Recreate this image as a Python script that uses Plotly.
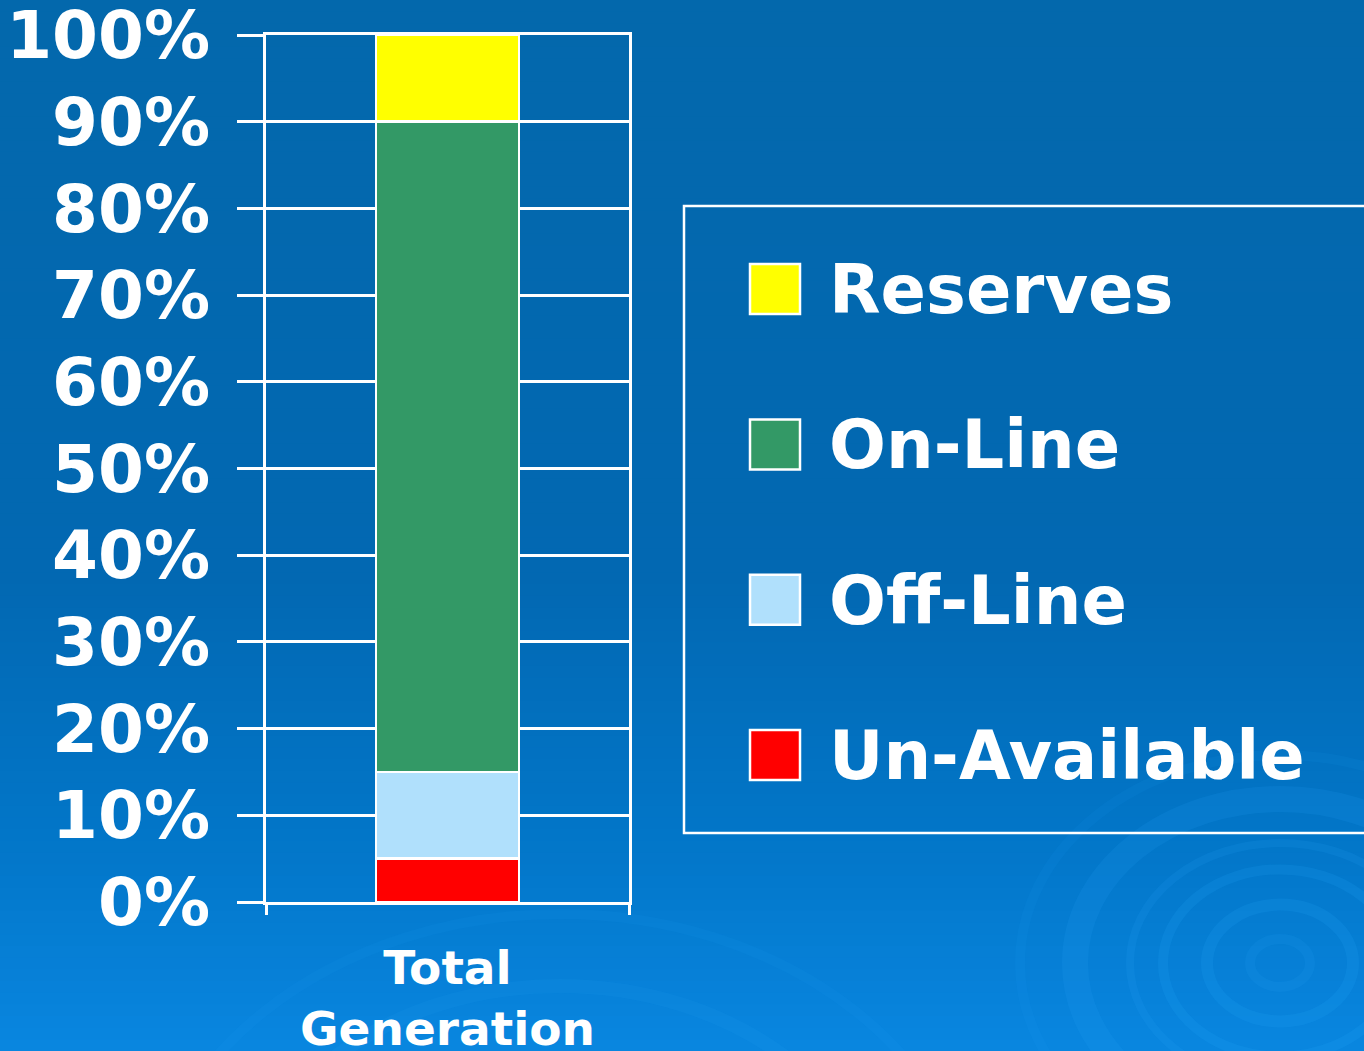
import plotly.graph_objects as go

# ---------------- data ----------------
categories = ["Total<br>Generation"]
series_names = ["Un-Available", "Off-Line", "On-Line", "Reserves"]   # bottom -> top
series_values = [[0.05], [0.10], [0.75], [0.10]]
series_colors = ["#FF0000", "#B0E0FC", "#339966", "#FFFF00"]
y_tick_vals = [0.0, 0.1, 0.2, 0.3, 0.4, 0.5, 0.6, 0.7, 0.8, 0.9, 1.0]
y_tick_text = ["0%", "10%", "20%", "30%", "40%", "50%", "60%", "70%", "80%", "90%", "100%"]

# ---------------- page geometry ----------------
W, H = 1364, 1051
FONT = "DejaVu Sans"
WHITE = "#FFFFFF"


def px_x(p):
    return p / W


def px_y(p):
    return 1 - p / H


fig = go.Figure()

# stacked bars
for name, vals, col in zip(series_names, series_values, series_colors):
    fig.add_trace(go.Bar(
        x=categories, y=vals, name=name,
        marker=dict(color=col, line=dict(color=WHITE, width=2.5)),
        width=0.394, showlegend=False, xaxis="x", yaxis="y",
        hovertemplate=name + ": %{y:.0%}<extra></extra>",
    ))

# custom large legend (separate axes)
fig.add_trace(go.Scatter(
    x=[91] * len(series_names), y=series_names, mode="markers",
    marker=dict(symbol="square", size=50, color=series_colors,
                line=dict(color=WHITE, width=2.5)),
    showlegend=False, hoverinfo="skip", xaxis="x2", yaxis="y2",
))
annotations = [
    dict(x=143, y=name, xref="x2", yref="y2", text=name, showarrow=False,
         xanchor="left", yanchor="middle", yshift=-1,
         font=dict(family=FONT, size=67, color=WHITE, weight="bold"))
    for name in series_names
]

# ---------------- background gradient ----------------
stops = [(0.0, (3, 104, 172)), (0.55, (2, 104, 178)), (0.8, (2, 118, 200)), (1.0, (9, 134, 224))]


def grad(t):
    for (t0, c0), (t1, c1) in zip(stops[:-1], stops[1:]):
        if t <= t1:
            f = (t - t0) / (t1 - t0)
            return tuple(round(a + (b - a) * f) for a, b in zip(c0, c1))
    return stops[-1][1]


shapes = []
N = 90
for i in range(N):
    t0 = i / N
    t1 = (i + 1) / N + 0.002
    r, g, b = grad((t0 + t1) / 2)
    shapes.append(dict(type="rect", xref="paper", yref="paper", layer="below",
                       x0=0, x1=1, y0=1 - t1, y1=1 - t0,
                       fillcolor=f"rgb({r},{g},{b})", line=dict(width=0)))

# faint ripple rings (decoration)
cx, cy = 1280, 963
for rad, lw, op in [(30, 10, 0.12), (73, 12, 0.16), (117, 10, 0.16), (150, 8, 0.14), (205, 26, 0.14), (260, 10, 0.08)]:
    shapes.append(dict(type="circle", xref="paper", yref="paper", layer="below",
                       x0=px_x(cx - rad), x1=px_x(cx + rad),
                       y0=px_y(cy + rad * 0.8), y1=px_y(cy - rad * 0.8),
                       line=dict(color=f"rgba(40,165,250,{op})", width=lw)))
for rad, lw, op in [(330, 14, 0.10), (420, 10, 0.07)]:
    shapes.append(dict(type="circle", xref="paper", yref="paper", layer="below",
                       x0=px_x(560 - rad), x1=px_x(560 + rad),
                       y0=px_y(1250 + rad * 0.8), y1=px_y(1250 - rad * 0.8),
                       line=dict(color=f"rgba(40,165,250,{op})", width=lw)))

# legend box
shapes.append(dict(type="rect", xref="paper", yref="paper", layer="above",
                   x0=px_x(684), x1=1.02, y0=px_y(833), y1=px_y(206),
                   line=dict(color=WHITE, width=2.5), fillcolor="rgba(0,0,0,0)"))

fig.update_layout(
    width=W, height=H,
    margin=dict(l=0, r=0, t=0, b=0, autoexpand=False),
    paper_bgcolor="rgb(3,104,172)",
    plot_bgcolor="rgba(0,0,0,0)",
    barmode="stack",
    showlegend=False,
    shapes=shapes,
    annotations=annotations,
    font=dict(family=FONT, color=WHITE),
    xaxis=dict(
        domain=[px_x(266), px_x(629)], range=[-0.5, 0.5], type="category",
        showline=True, mirror=True, linecolor=WHITE, linewidth=2.5,
        ticks="outside", tickson="boundaries", ticklen=10, tickwidth=2.5, tickcolor=WHITE,
        showgrid=False, zeroline=False, automargin=False,
        tickfont=dict(family=FONT, size=47, color=WHITE, weight="bold"),
        ticklabelstandoff=23, ticklabeloverflow="allow",
    ),
    yaxis=dict(
        domain=[px_y(902), px_y(35)], range=[0, 1],
        tickvals=y_tick_vals, ticktext=y_tick_text,
        ticks="outside", ticklen=26, tickwidth=2.5, tickcolor=WHITE,
        showgrid=True, gridcolor=WHITE, gridwidth=2.5,
        showline=True, mirror=True, linecolor=WHITE, linewidth=2.5,
        zeroline=False, automargin=False,
        tickfont=dict(family=FONT, size=66, color=WHITE, weight="bold"),
        ticklabelstandoff=14, ticklabeloverflow="allow",
    ),
    xaxis2=dict(domain=[px_x(684), 1], range=[0, 680], visible=False, fixedrange=True),
    yaxis2=dict(domain=[px_y(833), px_y(206)], type="category",
                categoryorder="array", categoryarray=series_names,
                range=[-0.502, 3.535], visible=False, fixedrange=True),
)

fig.write_html(
    "out.html",
    config={"displayModeBar": False},
    post_script="document.body.style.margin='0';document.body.style.overflow='hidden';",
)
